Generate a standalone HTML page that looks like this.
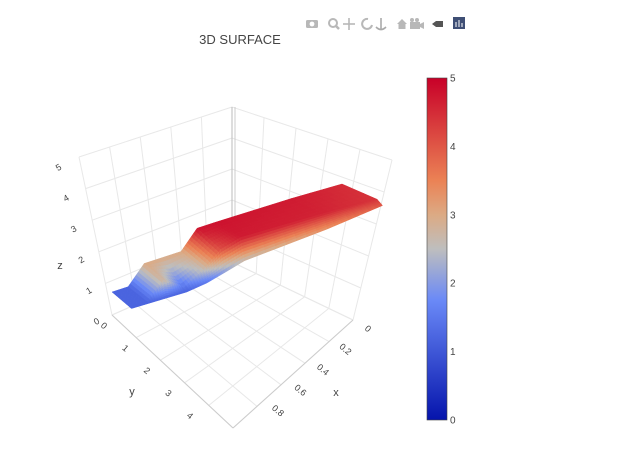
<!DOCTYPE html>
<html><head><meta charset="utf-8">
<style>
html,body{margin:0;padding:0;background:#fff;}
body{width:640px;height:452px;overflow:hidden;font-family:"Liberation Sans",sans-serif;}
svg text{font-family:"Liberation Sans",sans-serif;}
</style></head>
<body>
<svg id="chart" width="640" height="452" viewBox="0 0 640 452" xmlns="http://www.w3.org/2000/svg">
  <rect x="0" y="0" width="640" height="452" fill="#fff"/>
  <text x="240" y="44" font-size="13" fill="#444" text-anchor="middle">3D SURFACE</text>
  <g id="toolbar" fill="#b8b8b8">
    <g><rect x="306" y="20" width="12" height="8" rx="1.5"/><circle cx="312" cy="24" r="2.4" fill="#fff"/></g>
    <g><circle cx="333" cy="23" r="4" fill="none" stroke="#b8b8b8" stroke-width="2"/><line x1="336" y1="26" x2="339" y2="29" stroke="#b8b8b8" stroke-width="2.5"/></g>
    <g stroke="#b8b8b8" stroke-width="1.6"><line x1="343" y1="24" x2="355" y2="24"/><line x1="349" y1="18" x2="349" y2="30"/></g>
    <g><path d="M368 19 A5 5 0 1 0 372 25" fill="none" stroke="#b8b8b8" stroke-width="2"/></g>
    <g stroke="#aaa" stroke-width="1.6" fill="none"><line x1="381" y1="18" x2="381" y2="29"/><path d="M376 27 Q381 32 386 27"/></g>
    <g><path d="M397 24 L402 19 L407 24 L405.5 24 L405.5 29 L398.5 29 L398.5 24 Z"/></g>
    <g><rect x="410" y="22" width="10" height="7"/><circle cx="412" cy="20" r="2"/><circle cx="417" cy="20" r="2"/><polygon points="420,24 424,22 424,29 420,27"/></g>
    <g><polygon points="432,24 436,21 443,21 443,27 436,27" fill="#555"/></g>
    <g><rect x="453" y="17" width="12" height="12" fill="#3f4f75"/><g stroke="#fff" stroke-width="1"><line x1="456" y1="27" x2="456" y2="22"/><line x1="459" y1="27" x2="459" y2="20"/><line x1="462" y1="27" x2="462" y2="23"/></g></g>
  </g>
  <defs id="defs"></defs>
  <g id="axes"></g>
  <g id="surface"></g>
  <g id="colorbar"></g>
</svg>
<script>
// ---- data ----
var tPos   = [0, 0.07, 0.14, 0.22, 0.30, 0.37, 0.45, 0.78, 1];
var zBack  = [1.2, 1.2, 3.0, 3.0, 3.0, 4.8, 4.8, 4.7, 4.5];
var zMid   = [1.2, 1.2, 2.8, 1.4, 2.6, 4.1, 4.7, 4.6, 4.4];
var zFront = [1.2, 1.2, 1.2, 1.2, 1.5, 2.0, 2.6, 3.3, 4.0];
var rowJ   = [0, 1.3, 1.5];
var zTicks = ['0','1','2','3','4','5'];
var yTicks = ['0','1','2','3','4'];
var xTicks = ['0','0.2','0.4','0.6','0.8'];
var cbTicks = ['0','1','2','3','4','5'];

var NS='http://www.w3.org/2000/svg';
function mk(tag,attrs,parent){var e=document.createElementNS(NS,tag);for(var k in attrs)e.setAttribute(k,attrs[k]);parent.appendChild(e);return e;}
var defs=document.getElementById('defs');

var stops=[[0,[5,20,172]],[0.35,[106,137,247]],[0.5,[190,190,190]],[0.6,[220,170,132]],[0.7,[235,130,85]],[1,[200,0,40]]];
function cs(v){v=Math.max(0,Math.min(1,v));for(var i=1;i<stops.length;i++){if(v<=stops[i][0]){var a=stops[i-1],b=stops[i],f=(v-a[0])/(b[0]-a[0]);return 'rgb('+[0,1,2].map(function(k){return Math.round(a[1][k]+(b[1][k]-a[1][k])*f);}).join(',')+')';}}return 'rgb(200,0,40)';}
var zMin=0,zMax=5;

// ---- axes / walls ----
var ax=document.getElementById('axes');
var K=[232,262],L=[112,315],R=[353,320],F=[233,428],KT=[232,107],LT=[79,157],RT=[392,160];
function lerp(a,b,f){return [a[0]+(b[0]-a[0])*f,a[1]+(b[1]-a[1])*f];}
function bil(p00,p10,p01,p11,u,v){return lerp(lerp(p00,p10,u),lerp(p01,p11,u),v);}
function line(p,q,name,col){var e=mk('line',{x1:p[0],y1:p[1],x2:q[0],y2:q[1],stroke:col||'#e8e8e8','stroke-width':1},ax);}
for(var i=0;i<=5;i++){var f=i/5;
  line(bil(K,R,L,F,f,0),bil(K,R,L,F,f,1),'floor-grid-x');
  line(bil(K,R,L,F,0,f),bil(K,R,L,F,1,f),'floor-grid-y');
  line(lerp(L,K,f),lerp(LT,KT,f),'left-wall-grid-v');
  line(lerp(K,R,f),lerp(KT,RT,f),'right-wall-grid-v');
  line(lerp(L,LT,f),lerp(K,KT,f),'left-wall-grid-z');
  line(lerp(K,KT,f),lerp(R,RT,f),'right-wall-grid-z');
}
line(K,KT,'z-axis-line','#bbb');line([K[0]+3,K[1]],[KT[0]+3,KT[1]],'z-axis-line2','#ccc');
line(L,F,'y-axis-line','#ccc');line(R,F,'x-axis-line','#ccc');
function txt(s,x,y,name,size,rot){var e=mk('text',{x:x,y:y,'font-size':size||10,fill:'#444','text-anchor':'middle'},ax);if(rot)e.setAttribute('transform','rotate('+rot+' '+x+' '+y+')');e.textContent=s;}
zTicks.forEach(function(s,i){var p=lerp([98,324],[60,170],i/5);txt(s,p[0],p[1],'z-tick-label',9,-30);});
yTicks.forEach(function(s,i){var p=lerp([102,328],[188,418],i/4);txt(s,p[0],p[1],'y-tick-label',9,40);});
xTicks.forEach(function(s,i){var p=lerp([366,331],[276,413],i/4);txt(s,p[0],p[1],'x-tick-label',9,40);});
txt('z',60,269,'z-axis-title',11);txt('y',132,395,'y-axis-title',11);txt('x',336,396,'x-axis-title',11);

// ---- surface projection ----
var A=[112,304],U=[230,-75],S=10;
function V(t){return [13+(27-13)*t,11];}
function proj(t,j,z){var v=V(t);return [A[0]+U[0]*t+v[0]*j, A[1]+U[1]*t+v[1]*j-S*z];}
var rows=[zBack,zMid,zFront];
var sg=document.getElementById('surface');
var N=8;
for(var c=tPos.length-2;c>=0;c--){
  for(var r=0;r<2;r++){
    for(var a=N-1;a>=0;a--){
      for(var b=0;b<N;b++){
        var corners=[[a,b],[a+1,b],[a+1,b+1],[a,b+1]].map(function(q){
          var fu=q[0]/N,fv=q[1]/N;
          var t=tPos[c]+(tPos[c+1]-tPos[c])*fu;
          var j=rowJ[r]+(rowJ[r+1]-rowJ[r])*fv;
          var z0=rows[r][c]+(rows[r][c+1]-rows[r][c])*fu;
          var z1=rows[r+1][c]+(rows[r+1][c+1]-rows[r+1][c])*fu;
          var z=z0+(z1-z0)*fv;
          return {p:proj(t,j,z),z:z};
        });
        var zAvg=(corners[0].z+corners[1].z+corners[2].z+corners[3].z)/4;
        var col=cs((zAvg-zMin)/(zMax-zMin));
        var poly=mk('polygon',{points:corners.map(function(k){return k.p[0].toFixed(2)+','+k.p[1].toFixed(2);}).join(' '),fill:col,stroke:col,'stroke-width':0.5},sg);
        
        
      }
    }
  }
}

// ---- colorbar ----
var cb=document.getElementById('colorbar');
var cg=mk('linearGradient',{id:'cbg',x1:0,y1:1,x2:0,y2:0},defs);
stops.forEach(function(s){mk('stop',{offset:s[0],'stop-color':'rgb('+s[1].join(',')+')'},cg);});
var bar=mk('rect',{x:427,y:78,width:20,height:342,fill:'url(#cbg)',stroke:'#444','stroke-width':0.6},cb);


cbTicks.forEach(function(s,i){var y=420-342*i/5;var t=mk('text',{x:450,y:y+3.5,'font-size':10,fill:'#444'},cb);t.textContent=s;
  
  });
</script>
</body></html>
